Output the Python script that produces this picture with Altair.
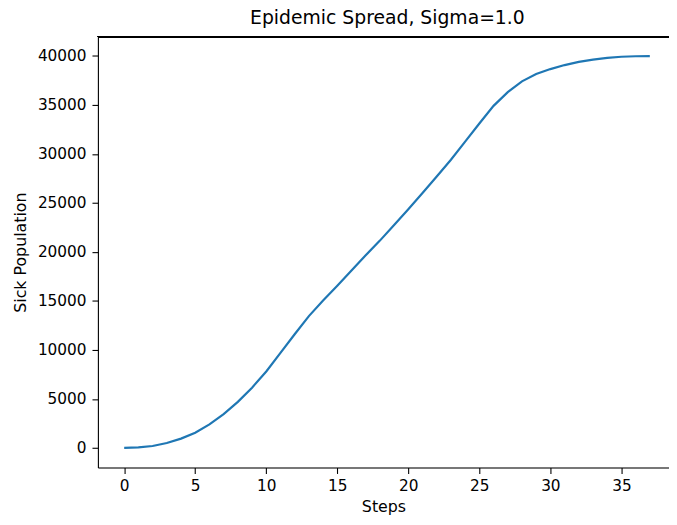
import altair as alt
import pandas as pd

steps = list(range(38))
sick = [0, 50, 200, 500, 950, 1550, 2400, 3450, 4700, 6150,
        7800, 9700, 11600, 13450, 15050, 16550, 18100, 19650, 21150, 22750,
        24350, 26000, 27700, 29400, 31250, 33100, 34900, 36300, 37400, 38150,
        38650, 39060, 39390, 39620, 39800, 39910, 39960, 39980]

x_ticks = [0, 5, 10, 15, 20, 25, 30, 35]
y_ticks = [0, 5000, 10000, 15000, 20000, 25000, 30000, 35000, 40000]

df = pd.DataFrame({"Steps": steps, "Sick": sick})

W, H = 578, 436
FONT = "DejaVu Sans"

line = alt.Chart(df).mark_line(color="#1f77b4", strokeWidth=2.2).encode(
    x=alt.X("Steps:Q",
            scale=alt.Scale(domain=[-1.85, 38.35], nice=False, zero=False),
            axis=alt.Axis(values=x_ticks, title="Steps", grid=False, format="d",
                          domainColor="#000", domainWidth=1.1,
                          tickColor="#000", tickSize=6, tickWidth=1.1,
                          labelPadding=5, labelColor="#000",
                          labelFont=FONT, labelFontSize=15.5,
                          titleFont=FONT, titleFontSize=16, titleFontWeight="normal",
                          titleColor="#000", titlePadding=5)),
    y=alt.Y("Sick:Q",
            scale=alt.Scale(domain=[-2000, 41950], nice=False, zero=False),
            axis=alt.Axis(values=y_ticks, title="Sick Population", grid=False, format="d",
                          domainColor="#000", domainWidth=1.1,
                          tickColor="#000", tickSize=6, tickWidth=1.1,
                          labelPadding=6, labelColor="#000",
                          labelFont=FONT, labelFontSize=15.5,
                          titleFont=FONT, titleFontSize=16, titleFontWeight="normal",
                          titleColor="#000", titlePadding=9)),
)

top_border = alt.Chart(df).mark_rule(color="#000", strokeWidth=1.1).encode(
    x=alt.value(0), x2=alt.value(W), y=alt.value(0)
)

chart = alt.layer(line, top_border).properties(
    width=W, height=H,
    title=alt.TitleParams("Epidemic Spread, Sigma=1.0", font=FONT, fontSize=19,
                          fontWeight="normal", color="#000", anchor="middle",
                          offset=8, dx=4),
    autosize=alt.AutoSizeParams(type="none"),
    padding={"left": 91, "top": 26, "right": 0, "bottom": 50},
).configure_view(stroke=None).configure(background="white")

chart.save("out.html", embed_options={"renderer": "svg", "actions": False})
